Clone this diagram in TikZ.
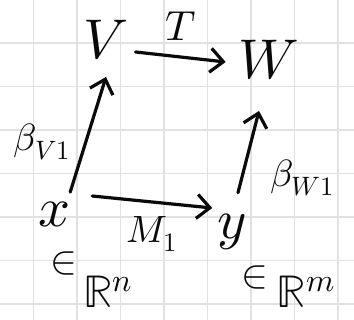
\documentclass[tikz,border=0pt]{standalone}
\usepackage{amsmath}
\usepackage{unicode-math}
\setmathfont{Latin Modern Math}
\usetikzlibrary{arrows.meta}
\definecolor{gridline}{HTML}{E2E2E2}
\definecolor{ink}{HTML}{0A0A0A}
\tikzset{
  obj/.style={font=\fontsize{56}{56}\selectfont, inner sep=1pt, text=ink},
  lbl/.style={font=\fontsize{38}{38}\selectfont, inner sep=1pt, text=ink},
  member/.style={font=\fontsize{40}{40}\selectfont, inner sep=1pt, text=ink},
  space/.style={font=\fontsize{46}{46}\selectfont, inner sep=1pt, text=ink},
  map/.style={ink, line width=3.2pt, line cap=round,
    -{Straight Barb[length=13pt,width=24pt,line width=3.2pt]}}
}

\begin{document}
\begin{tikzpicture}[x=1pt,y=-1pt]
  \useasboundingbox (0,0) rectangle (354,320);
  \fill[white] (0,0) rectangle (354,320);
  % squared paper
  \foreach \gx in {33.5,77,...,340} \draw[gridline,line width=1.2pt] (\gx,0) -- (\gx,320);
  \foreach \gy in {43,86.5,...,310} \draw[gridline,line width=1.2pt] (0,\gy) -- (354,\gy);

  % spaces
  \node[obj] (V) at (106,40) {$V$};
  \node[obj] (W) at (269,60) {$W$};
  \node[obj] (x) at (55,214) {$x$};
  \node[obj] (y) at (232,232) {$y$};
  \node[member] (inx) at (64,264) {$\in$};
  \node[space] (Rn) at (108,292) {$\mathbb{R}^n$};
  \node[member] (iny) at (255,278) {$\in$};
  \node[space] (Rm) at (306,292) {$\mathbb{R}^m$};

  % maps
  \draw[map] ([xshift=6pt,yshift=-12pt]V.east) -- ([xshift=-12pt,yshift=-2pt]W.west) node[midway,above=14pt,lbl,font=\fontsize{42}{42}\selectfont] (T) {$T$};
  \draw[map] ([xshift=20pt,yshift=18pt]x.east) -- ([xshift=-4pt,yshift=24pt]y.west) node[midway,below=12pt,lbl] (M) {$M_1$};
  \draw[map] ([xshift=-2pt,yshift=8pt]x.north east) -- ([xshift=0pt,yshift=-16pt]V.south);
  \draw[map] ([xshift=6pt,yshift=20pt]y.north) -- ([xshift=-10pt,yshift=-30pt]W.south);
  \node[lbl] (bV) at (42,142) {$\beta_{V1}$};
  \node[lbl] (bW) at (302,178) {$\beta_{W1}$};
\end{tikzpicture}
\end{document}
